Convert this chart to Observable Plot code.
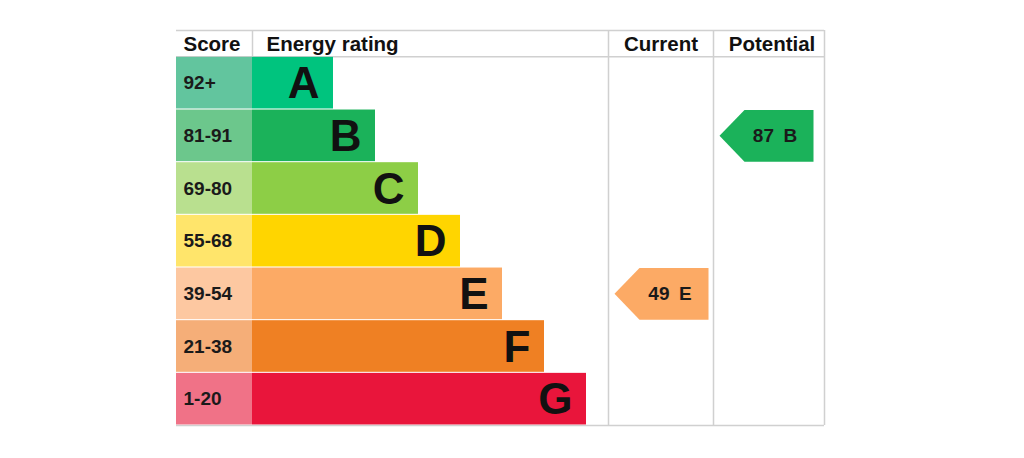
<!DOCTYPE html>
<html><head><meta charset="utf-8">
<script src="https://cdn.jsdelivr.net/npm/d3@7"></script>
<script src="https://cdn.jsdelivr.net/npm/@observablehq/plot@0.6"></script>
<style>body{margin:0;background:#fff;}</style>
</head><body><div id="chart"></div>
<script>
// ---- data ----
const bands = ["A", "B", "C", "D", "E", "F", "G"];
const scoreRanges = ["92+", "81-91", "69-80", "55-68", "39-54", "21-38", "1-20"];
const barLengths = [81, 123, 166, 208, 250, 292, 334];
const barColors = ["#00c47e", "#1bb25a", "#8dce46", "#ffd500", "#fcaa65", "#ef8023", "#e9153b"];
const scoreColors = ["#62c59e", "#6cc78c", "#b9e08f", "#ffe56b", "#fdc8a1", "#f5ae78", "#f07287"];
const headers = ["Score", "Energy rating", "Current", "Potential"];
const currentScore = 49, currentBand = "E";
const potentialScore = 87, potentialBand = "B";

// ---- layout (table columns in x units, rows in y units) ----
const COL = {scoreEnd: 76, barStart: 76, current: [432, 537], potential: [537, 648], end: 648};
const GAP = 0.01;
const FONT = "'Liberation Sans', Arial, sans-serif";
const gridColor = "#d0d0d0";

const rows = bands.map((b, i) => ({
  band: b, score: scoreRanges[i], i,
  x2: COL.barStart + barLengths[i],
  y1: i + GAP, y2: i + 1 - GAP,
  yc: i + 0.5,
  bar: barColors[i], cell: scoreColors[i]
}));

function arrow(score, band, [c0, c1]) {
  const i = bands.indexOf(band);
  const tip = c0 + 6, right = tip + 94, depth = 25;
  const pts = [
    {x: tip, y: i + 0.5}, {x: tip + depth, y: i + GAP}, {x: right, y: i + GAP},
    {x: right, y: i + 1 - GAP}, {x: tip + depth, y: i + 1 - GAP}, {x: tip, y: i + 0.5}
  ];
  return {pts, color: barColors[i], label: `${score}\u2002${band}`, lx: (tip + depth + right) / 2 - 4, ly: i + 0.5};
}
const cur = arrow(currentScore, currentBand, COL.current);
const pot = arrow(potentialScore, potentialBand, COL.potential);

const headerLeft = [
  {t: headers[0], x: 7},
  {t: headers[1], x: 90}
];
const headerMid = [
  {t: headers[2], x: (COL.current[0] + COL.current[1]) / 2},
  {t: headers[3], x: (COL.potential[0] + COL.potential[1]) / 2 + 3}
];

const hLines = [{y: -0.5}, {y: 0}, {y: 7}];
const vLines = [
  {x: COL.scoreEnd, y1: -0.5, y2: 0},
  {x: COL.current[0], y1: -0.5, y2: 7},
  {x: COL.potential[0], y1: -0.5, y2: 7},
  {x: COL.end, y1: -0.5, y2: 7}
];

const headerStyle = {y: () => -0.25, text: "t", fontSize: 20.5, fontWeight: "bold", fill: "#111", dy: 1};

const chart = Plot.plot({
  width: 1024, height: 458,
  marginLeft: 176, marginRight: 200, marginTop: 30, marginBottom: 33,
  x: {type: "linear", domain: [0, COL.end], axis: null},
  y: {type: "linear", domain: [7, -0.5], axis: null},
  style: {fontFamily: FONT, background: "#fff"},
  marks: [
    Plot.ruleY(hLines, {y: "y", x1: () => 0, x2: () => COL.end, stroke: gridColor, strokeWidth: 1.5}),
    Plot.ruleX(vLines, {x: "x", y1: "y1", y2: "y2", stroke: gridColor, strokeWidth: 1.5}),
    Plot.rect(rows, {x1: () => 0, x2: () => COL.scoreEnd, y1: "y1", y2: "y2", fill: d => d.cell}),
    Plot.rect(rows, {x1: () => COL.barStart, x2: "x2", y1: "y1", y2: "y2", fill: d => d.bar}),
    Plot.text(rows, {x: () => 7, y: "yc", text: "score", textAnchor: "start", fontSize: 19, fontWeight: "bold", fill: "#1a1a1a"}),
    Plot.text(rows, {x: d => d.x2 - 14, y: "yc", text: "band", textAnchor: "end", fontSize: 44, fontWeight: "bold", fill: "#111", dy: 1}),
    Plot.text(headerLeft, {x: "x", textAnchor: "start", ...headerStyle}),
    Plot.text(headerMid, {x: "x", textAnchor: "middle", ...headerStyle}),
    Plot.line(cur.pts, {x: "x", y: "y", fill: cur.color, stroke: "none"}),
    Plot.line(pot.pts, {x: "x", y: "y", fill: pot.color, stroke: "none"}),
    Plot.text([cur, pot], {x: "lx", y: "ly", text: "label", fontSize: 19, fontWeight: "bold", fill: "#1a1a1a"})
  ]
});
document.getElementById("chart").appendChild(chart);
</script>
</body></html>
